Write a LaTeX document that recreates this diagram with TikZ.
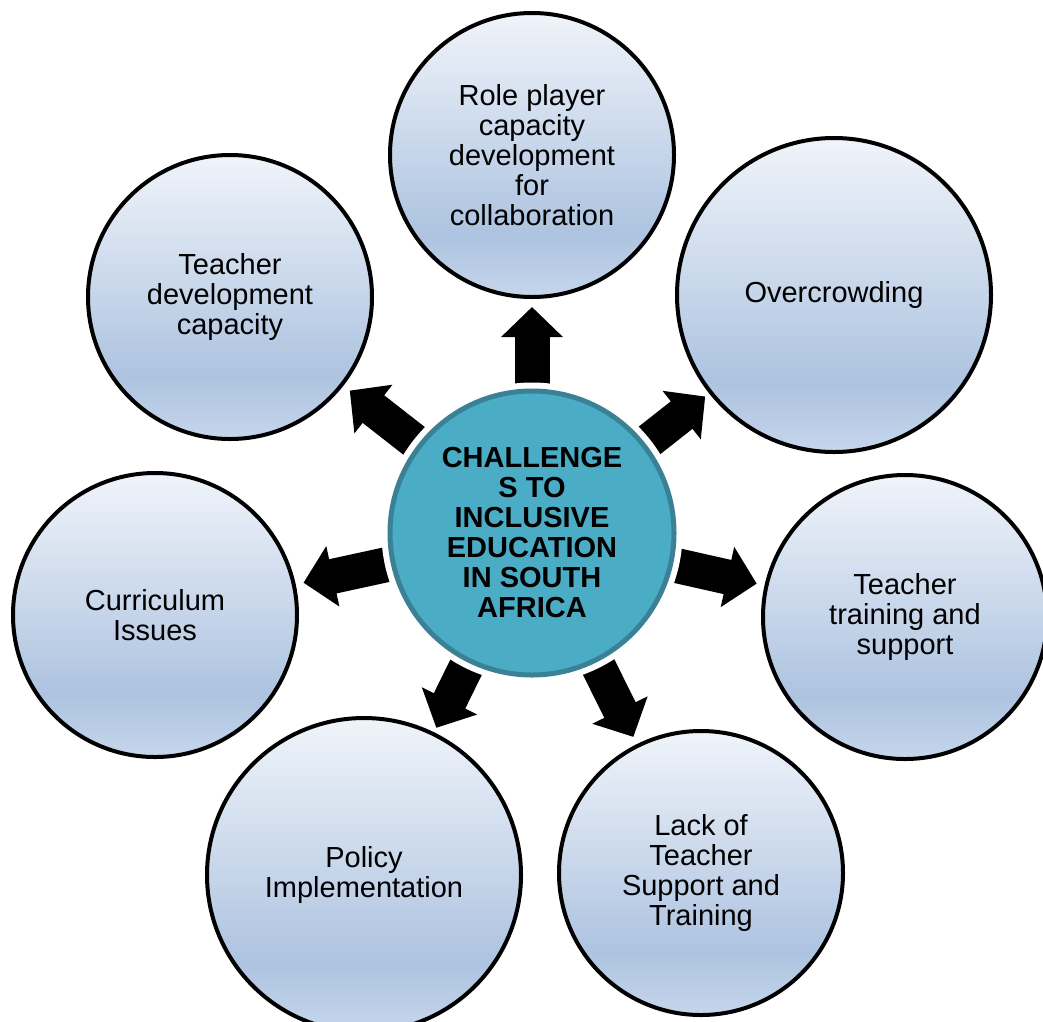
\documentclass[tikz,border=0pt]{standalone}
\usepackage{fontspec}
\setmainfont{Liberation Sans}
\usetikzlibrary{arrows.meta,backgrounds}

\definecolor{hubfill}{HTML}{4BACC6}
\definecolor{hubline}{HTML}{3B8196}
\definecolor{bubtop}{HTML}{F0F4FA}
\definecolor{bubmid}{HTML}{ADC3E0}
\definecolor{bubbot}{HTML}{C6D6EB}

% light at the top, darkest low down, a little lighter at the bottom
\pgfdeclareverticalshading{bubshade}{100bp}{color(0bp)=(bubbot); color(25bp)=(bubbot); color(36bp)=(bubmid); color(75bp)=(bubtop); color(100bp)=(bubtop)}

\tikzset{
  bubble/.style={circle, draw=black, line width=4pt, shade, shading=bubshade, minimum size=284pt, inner sep=0pt, align=center, font=\fontsize{29}{30}\selectfont},
  bigbubble/.style={bubble, minimum size=314pt},
  hub/.style={circle, draw=hubline, line width=5pt, fill=hubfill, minimum size=284pt, inner sep=0pt, align=center, font=\fontsize{29}{30}\selectfont\bfseries, preaction={draw=white, line width=17pt}},
  spoke/.style={line width=35pt, -{Triangle[width=60pt,length=30pt]}, shorten >=8pt}
}

\begin{document}
\begin{tikzpicture}[x=1pt,y=1pt,yscale=-1,xscale=1]
\useasboundingbox (0,0) rectangle (1043,1021);

% Centre circle
\node[hub] (hub) at (532,533) {CHALLENGE\\S TO\\INCLUSIVE\\EDUCATION\\IN SOUTH\\AFRICA};

% Outer circles
\node[bubble] (role) at (532,155) {Role player\\capacity\\development\\for\\collaboration};
\node[bigbubble] (crowd) at (834,295) {Overcrowding};
\node[bubble] (training) at (905,617) {Teacher\\training and\\support};
\node[bubble] (lack) at (701,873) {Lack of\\Teacher\\Support and\\Training};
\node[bigbubble] (policy) at (364,875) {Policy\\Implementation};
\node[bubble] (curric) at (155,615) {Curriculum\\Issues};
\node[bubble] (teachdev) at (230,297) {Teacher\\development\\capacity};

% Arrows, kept under the centre circle
\begin{pgfonlayer}{background}
\draw[spoke] (hub) -- (role);
\draw[spoke, shorten >=5pt] (hub) -- (crowd);
\draw[spoke] (hub) -- (training);
\draw[spoke] (hub) -- (lack);
\draw[spoke, shorten >=5pt] (hub) -- (policy);
\draw[spoke] (hub) -- (curric);
\draw[spoke] (hub) -- (teachdev);
\end{pgfonlayer}

\end{tikzpicture}
\end{document}
